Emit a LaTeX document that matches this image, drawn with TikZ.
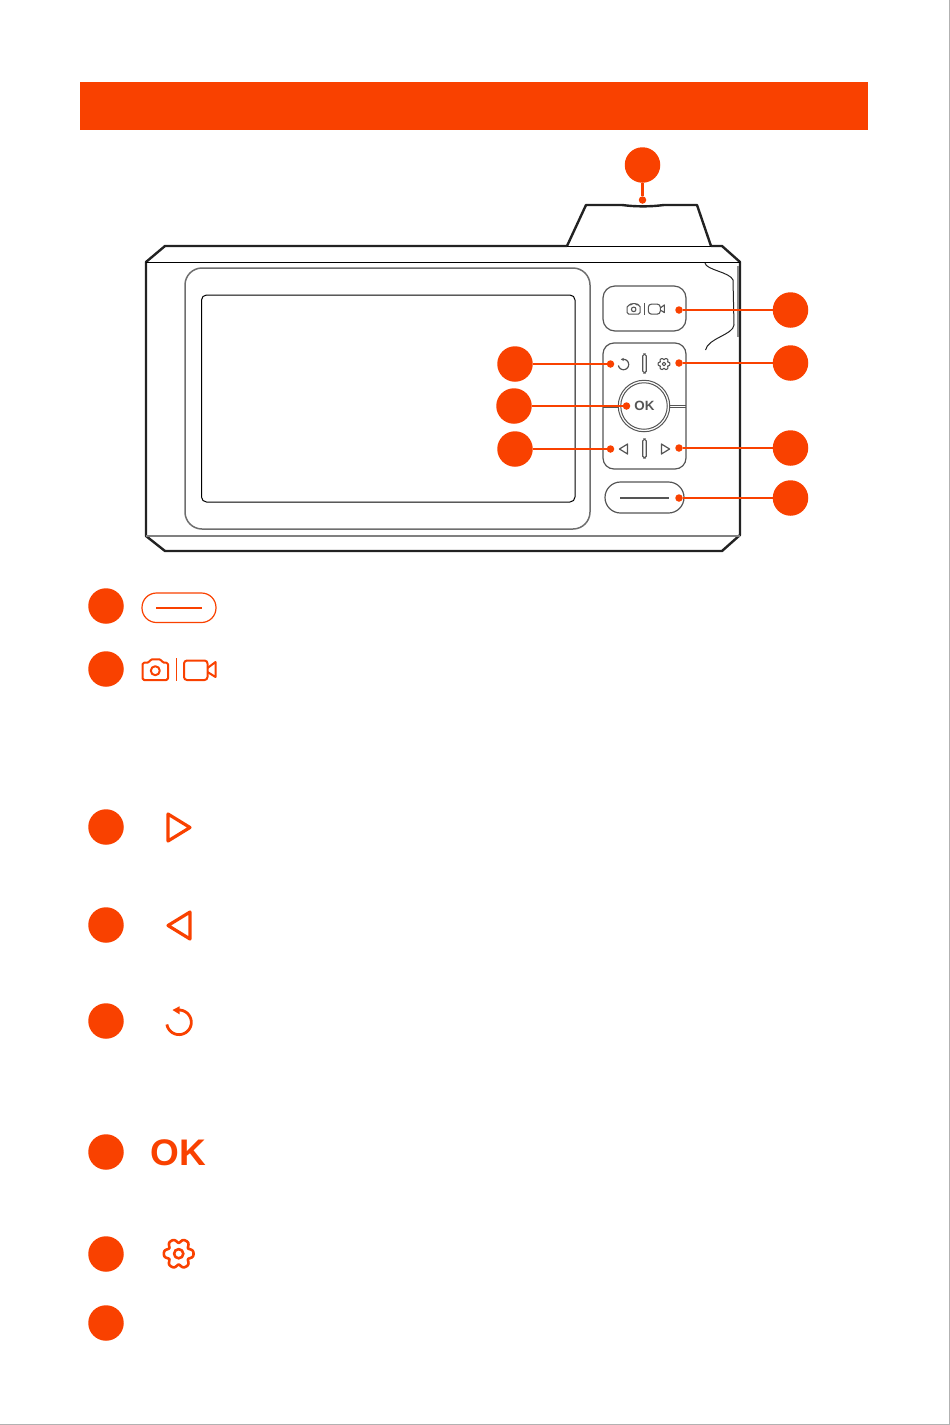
\documentclass[tikz,border=0pt]{standalone}
\usepackage{fontspec}
\newfontfamily\oksans{Liberation Sans}
\usetikzlibrary{calc,positioning}
\definecolor{accent}{HTML}{F94100}
\definecolor{shell}{HTML}{222222}
\definecolor{soft}{HTML}{555555}
\tikzset{
	badge/.style={shape=circle,fill=accent,inner sep=0,minimum size=35.5pt},
	pip/.style={shape=circle,fill=accent,inner sep=0,minimum size=7.5pt},
	leadline/.style={draw=accent,line width=2.1pt},
	shellline/.style={draw=shell,line width=2.4pt,line join=round},
	thinline/.style={draw=black,line width=1pt},
	softline/.style={draw=soft,line width=1.2pt},
	brandicon/.style={color=accent,line join=round},
	keyicon/.style={color=soft,line join=round},
	pics/camvideo/.style={code={
		\draw[line width=#1,rounded corners=1.6] (-34,-7.3) -- (-27.5,-7.3) -- (-26,-10.7) -- (-15.5,-10.7) -- (-14,-7.3) -- (-8.5,-7.3) -- (-8.5,10) -- (-34,10) -- cycle;
		\draw[line width=#1] (-21.2,0.7) circle (4.5);
		\draw[line width=.8*#1] (0,-12) -- (0,11);
		\draw[line width=#1,rounded corners=3] (7.5,-9.5) rectangle (31,10);
		\draw[line width=#1] (31,-2) -- (39,-8) -- (39,7) -- (31,2);
	}},
	pics/playtri/.style={code={\draw[line width=#1] (-11,-13.5) -- (11,0) -- (-11,13.5) -- cycle;}},
	pics/undoarrow/.style={code={
		\draw[line width=#1] plot[smooth,domain=-95:170,samples=40] (\x:12.3);
		\fill (-6.5,-12.3) -- (0.5,-16) -- (0.5,-8) -- cycle;
	}},
	pics/gearknob/.style={code={
		\draw[line width=#1] plot[smooth cycle,domain=0:356,samples=90] (\x:{13.3+2*cos(6*\x)-0.5*cos(12*\x)});
		\draw[line width=#1] (0,0) circle (4.6);
	}},
}
\begin{document}
\begin{tikzpicture}[x=1pt,y=-1pt]
	\useasboundingbox (0,0) rectangle (950,1425);
	\draw[draw=black!30,line width=1.2pt] (949.4,0) -- (949.4,1425);
	\draw[draw=black!30,line width=1.2pt] (0,1424.4) -- (950,1424.4);
	\fill[accent] (80,82) rectangle (868,130);

	% camera outline
	\draw[shellline] (567,246) -- (165,246) -- (146,262) -- (146,536) -- (165,551) -- (722,551) -- (740,535) -- (740,262) -- (722,246) -- (711,246);
	\draw[thinline] (567,246) -- (711,246);
	\draw[shellline] (567,246) -- (586,205) -- (622,205) .. controls (636,206.8) and (650,206.8) .. (664,205) -- (697,205) -- (711,246);
	\draw[thinline] (146,262) -- (740,262);
	\draw[draw=black!50,line width=1.3pt] (146,536) -- (740,536);
	\draw[draw=black!45,line width=1.6pt] (737.7,266) -- (737.7,337);
	\draw[draw=shell,line width=1pt] (705,263) .. controls (706,270) and (730,272) .. (733,280) -- (734,325) .. controls (733,335) and (708,338) .. (705.5,350);
	\draw[draw=soft!85,line width=1.5pt,rounded corners=17] (185,268) rectangle (590,529);
	\draw[thinline,rounded corners=5] (201.5,295) rectangle (575,502);

	% keys
	\draw[softline,rounded corners=12] (603,286) rectangle (686,331);
	\draw[softline,rounded corners=11] (603,343) rectangle (686,469);
	\draw[softline,rounded corners=15.5] (605,482) rectangle (684,513);
	\draw[draw=soft,line width=2.6pt] (620,498) -- (669,498);
	\draw[softline,rounded corners=1.8] (642.8,354) rectangle (646.2,373);
	\draw[softline,rounded corners=1.8] (642.8,439) rectangle (646.2,458);
	\draw[draw=soft,line width=.9pt] (603,405) -- (620,405) (603,407) -- (620,407) (668,405) -- (686,405) (668,407) -- (686,407);
	\node(dial) [shape=circle,draw=soft,fill=white,line width=1pt,inner sep=0,minimum size=51.5pt] at (644,406) {};
	\node(dialin) [shape=circle,draw=soft,line width=1pt,inner sep=0,minimum size=46.5pt] at (dial.center) {};
	\node(oksmall) [font=\oksans\bfseries\fontsize{13.4}{13.4}\selectfont,text=soft,inner sep=0] at (644.4,406) {OK};
	\pic(smallcam) [keyicon,scale=.51] at (644.5,309) {camvideo=1.1pt};
	\pic(smallundo) [keyicon,scale=.42] at (623.5,364.5) {undoarrow=1.2pt};
	\pic(smallgear) [keyicon,scale=.4] at (664,364) {gearknob=1.1pt};
	\pic(smallleft) [keyicon,xscale=-.37,yscale=.37] at (623.5,449) {playtri=1.2pt};
	\pic(smallright) [keyicon,scale=.37] at (665.5,449) {playtri=1.2pt};

	% call-outs
	\node(top) [badge] at (642.5,165) {};
	\node(toppip) [pip] at (642.5,200) {};
	\node(cam) [badge] at (790.5,310) {};
	\node(campip) [pip] at (679,310) {};
	\node(gear) [badge] at (790.5,363) {};
	\node(gearpip) [pip] at (679,363) {};
	\node(right) [badge] at (790.5,448) {};
	\node(rightpip) [pip] at (679,448) {};
	\node(menu) [badge] at (790.5,498) {};
	\node(menupip) [pip] at (679,498) {};
	\node(back) [badge] at (515,364) {};
	\node(backpip) [pip] at (610.5,364) {};
	\node(ok) [badge] at (514,406) {};
	\node(okpip) [pip] at (626.5,406) {};
	\node(left) [badge] at (515,449) {};
	\node(leftpip) [pip] at (610.5,449) {};
	\foreach \from/\to in {top/toppip,cam/campip,gear/gearpip,right/rightpip,menu/menupip,back/backpip,ok/okpip,left/leftpip}
		\draw[leadline] (\from) -- (\to);

	% legend
	\foreach \name/\ypos in {a/606,b/669,c/827,d/925,e/1021,f/1152,g/1254,h/1323}
		\node(legend\name) [badge] at (106,\ypos) {};
	\draw[draw=accent,line width=1.2pt,rounded corners=14.5] (142,593) rectangle (216,622.5);
	\draw[draw=accent,line width=2.2pt] (156,608) -- (202,608);
	\pic(bigcam) [brandicon] at (176.5,670) {camvideo=2pt};
	\pic(bigright) [brandicon] at (179,827.5) {playtri=3.2pt};
	\pic(bigleft) [brandicon,xscale=-1] at (179,925.5) {playtri=3.2pt};
	\pic(bigundo) [brandicon] at (179,1022.3) {undoarrow=2.8pt};
	\node(okbig) [font=\oksans\bfseries\fontsize{37}{37}\selectfont,text=accent,inner sep=0] at (178.5,1152.5) {OK};
	\pic(biggear) [brandicon] at (178.7,1253.7) {gearknob=2.6pt};
\end{tikzpicture}
\end{document}
